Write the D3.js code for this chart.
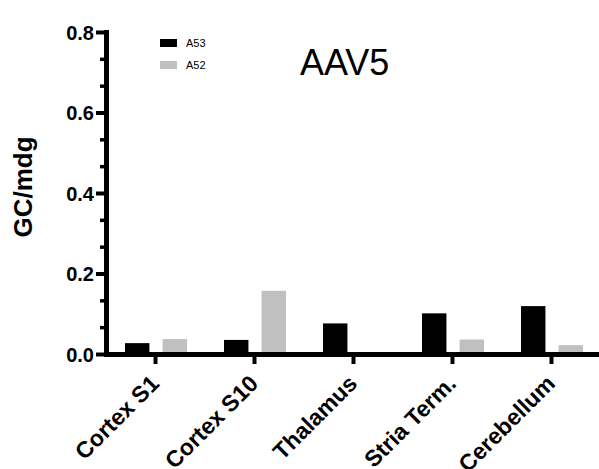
<!DOCTYPE html>
<html>
<head>
<meta charset="utf-8">
<script src="https://cdn.jsdelivr.net/npm/d3@7"></script>
<style>
  body { margin: 0; background: #fff; }
  svg { display: block; font-family: "Liberation Sans", Arial, Helvetica, sans-serif; }
</style>
</head>
<body>
<div id="chart"></div>
<script>
// data
const regions = ['Cortex S1', 'Cortex S10', 'Thalamus', 'Stria Term.', 'Cerebellum'];
const series = ['A53', 'A52'];
const a53 = [0.027, 0.035, 0.076, 0.101, 0.119];
const a52 = [0.037, 0.157, 0, 0.036, 0.022];
const majorTicks = [0, 0.2, 0.4, 0.6, 0.8];
const colors = { A53: '#000000', A52: '#c0c0c0' };

const width = 599, height = 469;
const margin = { top: 32, right: -2, bottom: 115, left: 106 };

const svg = d3.select('#chart').append('svg')
  .attr('width', width)
  .attr('height', height);

const y = d3.scaleLinear().domain([0, 0.8]).range([height - margin.bottom, margin.top]);
const x0 = d3.scaleBand().domain(regions).range([margin.left, width - margin.right]).padding(0);
const x1 = d3.scaleBand().domain(series).range([0, 62]).paddingInner(0.35);

const rows = regions.map((r, i) => ({ region: r, A53: a53[i], A52: a52[i] }));

// bars
const groups = svg.append('g').selectAll('g')
  .data(rows)
  .enter().append('g')
  .attr('transform', d => `translate(${x0(d.region) + x0.bandwidth() / 2 - 30.5},0)`);

groups.selectAll('rect')
  .data(d => series.map(s => ({ key: s, value: d[s] })))
  .enter().append('rect')
  .attr('x', d => x1(d.key))
  .attr('width', x1.bandwidth())
  .attr('y', d => y(d.value))
  .attr('height', d => y(0) - y(d.value))
  .attr('fill', d => colors[d.key]);

// y axis: minor ticks in thirds between the majors
const minorTicks = d3.range(0, 0.8, 0.2 / 3).filter(v => majorTicks.every(m => Math.abs(m - v) > 1e-6));

const yMinor = svg.append('g').attr('transform', `translate(${margin.left},0)`)
  .call(d3.axisLeft(y).tickValues(minorTicks).tickSize(6).tickFormat(''));
yMinor.select('.domain').remove();
yMinor.selectAll('.tick line').attr('stroke', '#000').attr('stroke-width', 3.5);

const yAxis = svg.append('g').attr('transform', `translate(${margin.left},0)`)
  .call(d3.axisLeft(y).tickValues(majorTicks).tickSize(10).tickSizeOuter(0).tickPadding(2)
    .tickFormat(d3.format('.1f')));
yAxis.select('.domain').attr('stroke', '#000').attr('stroke-width', 5).attr('stroke-linecap', 'square');
yAxis.selectAll('.tick line').attr('stroke', '#000').attr('stroke-width', 4);
yAxis.selectAll('.tick text')
  .attr('fill', '#000')
  .attr('dy', '0.36em')
  .style('font-size', '20px')
  .style('font-weight', 'bold');

// x axis
const xAxis = svg.append('g').attr('transform', `translate(0,${y(0)})`)
  .call(d3.axisBottom(x0).tickSize(10).tickSizeOuter(0));
xAxis.select('.domain').attr('stroke', '#000').attr('stroke-width', 5);
xAxis.selectAll('.tick line').attr('stroke', '#000').attr('stroke-width', 4);
xAxis.selectAll('.tick text')
  .attr('fill', '#000')
  .attr('text-anchor', 'end')
  .attr('x', 0)
  .attr('y', 0)
  .attr('dy', null)
  .attr('transform', 'translate(5,31) rotate(-45)')
  .style('font-size', '23px')
  .style('font-weight', 'bold');

// y label
svg.append('text')
  .attr('transform', `translate(32,187) rotate(-90)`)
  .attr('text-anchor', 'middle')
  .style('font-size', '26px')
  .style('font-weight', 'bold')
  .text('GC/mdg');

// title
svg.append('text')
  .attr('x', 300)
  .attr('y', 75)
  .style('font-size', '36px')
  .text('AAV5');

// legend
const legend = svg.append('g').attr('transform', 'translate(160,39)');
series.forEach((s, i) => {
  const row = legend.append('g').attr('transform', `translate(0,${i * 22})`);
  row.append('rect').attr('width', 17).attr('height', 8).attr('fill', colors[s]);
  row.append('text').attr('x', 26).attr('y', 8).style('font-size', '11px').text(s);
});
</script>
</body>
</html>
